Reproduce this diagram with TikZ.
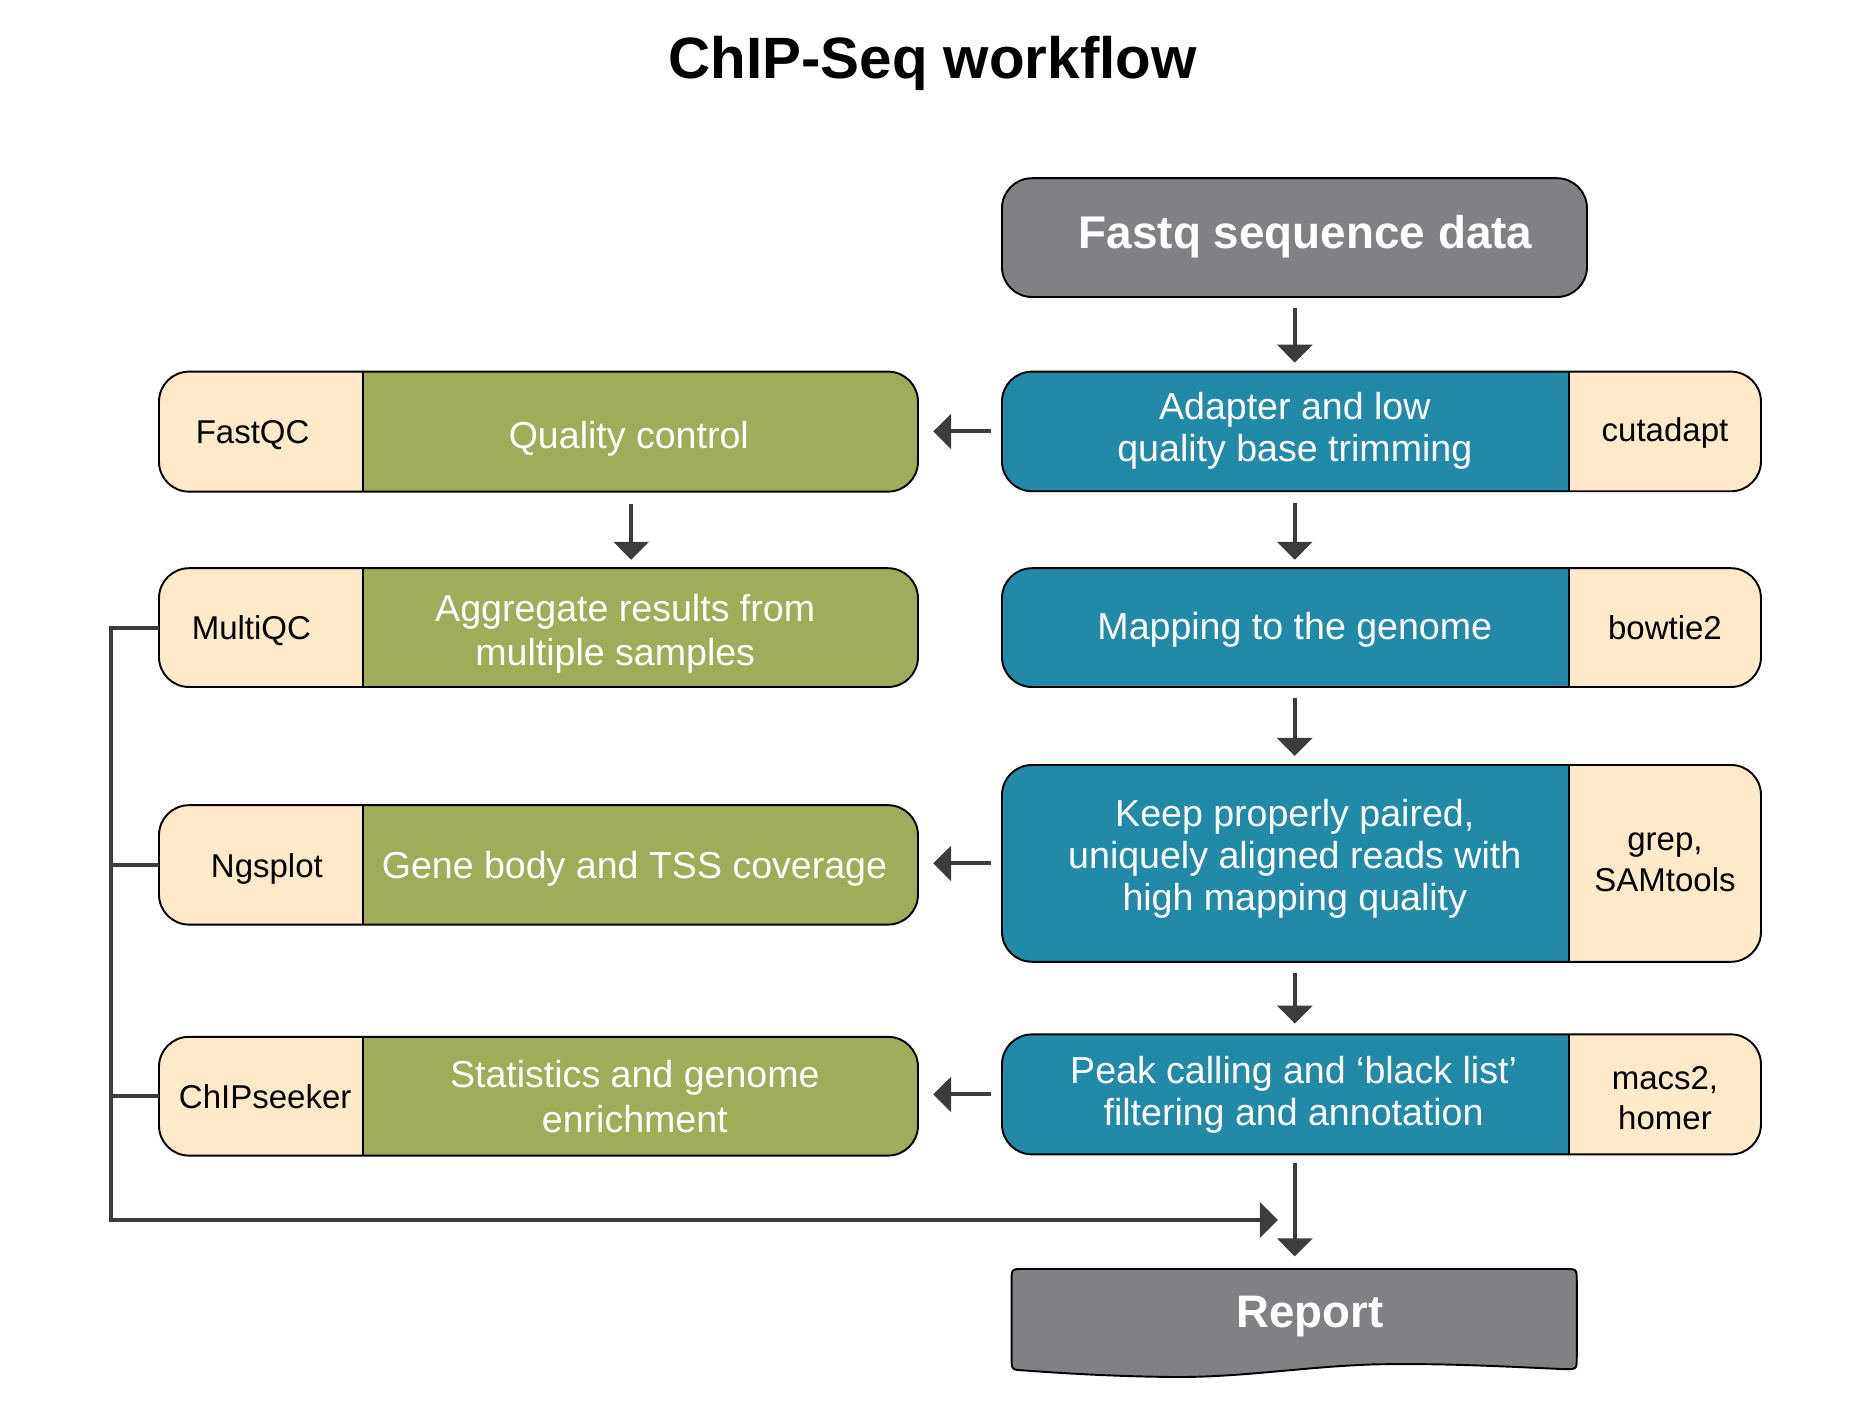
\documentclass[tikz,border=0pt]{standalone}
\usepackage{fontspec}
\setmainfont{Liberation Sans}
\usetikzlibrary{arrows.meta,calc}
\definecolor{cream}{HTML}{FFE9C9}
\definecolor{qcgreen}{HTML}{9FAC5A}
\definecolor{mapblue}{HTML}{2289A7}
\definecolor{boxgray}{HTML}{808184}
\definecolor{arrowc}{HTML}{3C3C3E}
\begin{document}
\begin{tikzpicture}[x=1pt,y=-1pt,
  every node/.style={inner sep=0pt, outer sep=0pt},
  rowbox/.style={draw=black, line width=1.6pt, rounded corners=25pt, anchor=north west, fill=cream, minimum width=632.5pt},
  leftrow/.style={rowbox, path picture={
      \fill[qcgreen, sharp corners] ([xshift=170pt]path picture bounding box.north west) rectangle (path picture bounding box.south east);
      \draw[black, line width=1.6pt, sharp corners] ([xshift=170pt]path picture bounding box.north west) -- ([xshift=170pt]path picture bounding box.south west);}},
  rightrow/.style={rowbox, path picture={
      \fill[mapblue, sharp corners] (path picture bounding box.north west) rectangle ([xshift=472.5pt]path picture bounding box.south west);
      \draw[black, line width=1.6pt, sharp corners] ([xshift=472.5pt]path picture bounding box.north west) -- ([xshift=472.5pt]path picture bounding box.south west);}},
  graybox/.style={draw=black, line width=1.6pt, rounded corners=25pt, anchor=north west, fill=boxgray},
  mtext/.style={text=white, font=\fontsize{31.3}{35}\selectfont, align=center},
  mtextwide/.style={text=white, font=\fontsize{31.3}{37}\selectfont, align=center},
  ttext/.style={text=black, font=\fontsize{27.5}{34}\selectfont, align=center},
  arr/.style={draw=arrowc, line width=3.3pt, -{Triangle[length=15pt,width=29pt]}},
  link/.style={draw=arrowc, line width=3.3pt}
]
\useasboundingbox (0,0) rectangle (1559.2,1185.8);
\fill[white] (0,0) rectangle (1559.2,1185.8);

% title
\node[anchor=base, font=\fontsize{48.6}{58}\selectfont\bfseries] (title) at (777.2,65.1) {ChIP-Seq workflow};

% top box
\node[graybox, minimum width=487.5pt, minimum height=99pt] (fastq) at (835,148.5) {};
\node[anchor=base, text=white, font=\fontsize{38.2}{44}\selectfont\bfseries] (fastqt) at (1088,207) {Fastq sequence data};

% right column
\node[rightrow, minimum height=99.7pt] (trim) at (835,309.7) {};
\node[rightrow, minimum height=99pt] (map) at (835,473.5) {};
\node[rightrow, minimum height=164pt] (filt) at (835,637.5) {};
\node[rightrow, minimum height=100pt] (peak) at (835,862) {};

\node[mtext] (trimt) at (1079,360.5) {\strut Adapter and low\\quality base trimming\strut};
\node[mtext] (mapt) at (1079,525.9) {\strut Mapping to the genome\strut};
\node[mtext] (filtt) at (1079,716.9) {\strut Keep properly paired,\\uniquely aligned reads with\\high mapping quality\strut};
\node[mtext] (peakt) at (1078,913.1) {\strut Peak calling and ‘black list’\\filtering and annotation\strut};

\node[ttext] (trimtool) at (1387.5,361.2) {\strut cutadapt\strut};
\node[ttext] (maptool) at (1387.5,526) {\strut bowtie2\strut};
\node[ttext] (filttool) at (1387.5,719) {\strut grep,\\SAMtools\strut};
\node[ttext] (peaktool) at (1387.5,917.8) {\strut macs2,\\homer\strut};

% left column
\node[leftrow, minimum height=100pt] (qc) at (132.5,309.7) {};
\node[leftrow, minimum height=99pt] (mqc) at (132.5,473.5) {};
\node[leftrow, minimum height=99.5pt] (ngs) at (132.5,671) {};
\node[leftrow, minimum height=99pt] (chs) at (132.5,864) {};

\node[mtext] (qct) at (524,366.6) {\strut Quality control\strut};
\node[mtextwide] (mqct) at (521,529.1) {\strut Aggregate results from\\multiple samples\hspace*{16.6pt}\strut};
\node[mtext] (ngst) at (528.7,724.7) {\strut Gene body and TSS coverage\strut};
\node[mtextwide] (chst) at (529,917.7) {\strut Statistics and genome\\enrichment\strut};

\node[ttext] (qctool) at (210.5,363) {\strut FastQC\strut};
\node[ttext] (mqctool) at (209.5,526) {\strut MultiQC\strut};
\node[ttext] (ngstool) at (222.4,724.8) {\strut Ngsplot\strut};
\node[ttext] (chstool) at (221,916.7) {\strut ChIPseeker\strut};

% report
\path[draw=black, line width=1.6pt, fill=boxgray]
  (843,1131) -- (843,1067.5) .. controls (843,1057.5) .. (853,1057.5)
  -- (1304,1057.5) .. controls (1314,1057.5) .. (1314,1067.5)
  -- (1314,1131) .. controls (1314,1141) .. (1304,1141)
  .. controls (1240,1138) and (1195,1136) .. (1145,1137)
  .. controls (1085,1139) and (1035,1148) .. (977,1147.5)
  .. controls (925,1147) and (880,1144) .. (853,1142)
  .. controls (843,1141.5) .. (843,1131) -- cycle;
\node[anchor=base, text=white, font=\fontsize{38}{44}\selectfont\bfseries] (report) at (1091.5,1106) {Report};
\coordinate (reptop) at (1079,1057.5);

% helper coordinates
\coordinate (ax) at (1079,0);
\coordinate (lx) at (526,0);
\coordinate (bx) at (92.5,0);
\coordinate (rin) at (1065,1016.7);

% vertical arrows right
\draw[arr] ($(fastq.south -| ax)+(0,9.5)$) -- ($(trim.north -| ax)+(0,-7.5)$);
\draw[arr] ($(trim.south -| ax)+(0,10)$) -- ($(map.north -| ax)+(0,-7)$);
\draw[arr] ($(map.south -| ax)+(0,9.5)$) -- ($(filt.north -| ax)+(0,-7.5)$);
\draw[arr] ($(filt.south -| ax)+(0,9.5)$) -- ($(peak.north -| ax)+(0,-9)$);
\draw[arr] ($(peak.south -| ax)+(0,7)$) -- ($(reptop)+(0,-10.5)$);

% left vertical arrow
\draw[arr] ($(qc.south -| lx)+(0,10)$) -- ($(mqc.north -| lx)+(0,-7)$);

% horizontal arrows
\draw[arr] ($(trim.west)+(-9,0)$) -- ($(qc.east |- trim.west)+(12.7,0)$);
\draw[arr] ($(filt.west)+(-9,0)$) -- ($(ngs.east |- filt.west)+(12.7,0)$);
\draw[arr] ($(peak.west)+(-9,0)$) -- ($(chs.east |- peak.west)+(12.7,0)$);

% bracket to report
\draw[arr] (mqc.west) -- (mqc.west -| bx) -- (bx |- rin) -- (rin);
\draw[link] (ngs.west) -- (ngs.west -| bx);
\draw[link] (chs.west) -- (chs.west -| bx);
\end{tikzpicture}
\end{document}
